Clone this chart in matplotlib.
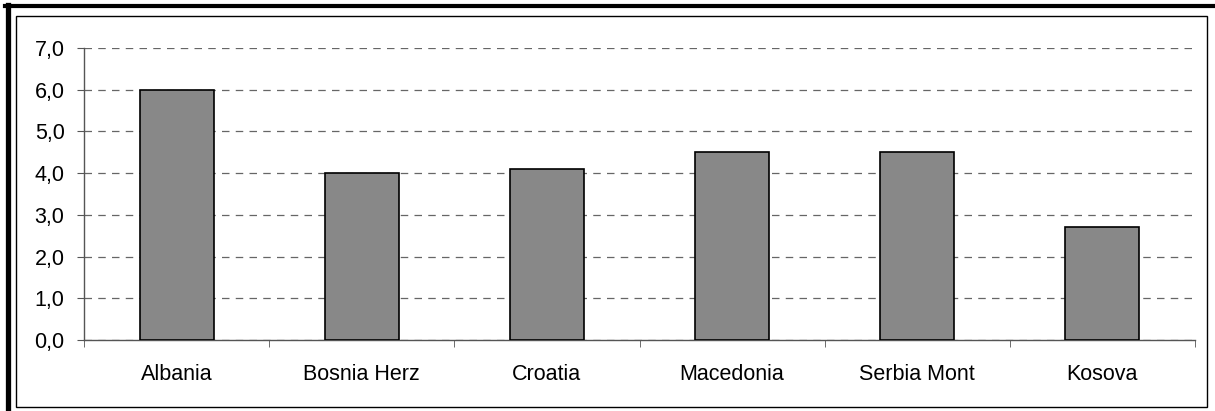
import numpy as np
import matplotlib.pyplot as plt
from matplotlib.patches import Rectangle
from matplotlib.lines import Line2D
from matplotlib.ticker import FixedLocator, NullFormatter

countries = ['Albania', 'Bosnia Herz', 'Croatia', 'Macedonia', 'Serbia Mont', 'Kosova']
values = [6.0, 4.0, 4.1, 4.5, 4.5, 2.7]
yticks = [0, 1, 2, 3, 4, 5, 6, 7]

W, H = 1215, 411
fig = plt.figure(figsize=(W / 100, H / 100), dpi=100)
plt.rcParams['font.family'] = ['Liberation Sans', 'DejaVu Sans']

ax = fig.add_axes([84 / W, (H - 340) / H, (1195 - 84) / W, 292 / H])
x = np.arange(len(countries))
ax.bar(x, values, width=0.4, color='#888888', edgecolor='black', linewidth=1.2, zorder=3)

ax.set_xlim(-0.5, len(countries) - 0.5)
ax.set_ylim(0, 7)
ax.set_yticks(yticks)
ax.set_yticklabels([f'{v:.1f}'.replace('.', ',') for v in yticks], fontsize=15.5)
ax.set_xticks(x)
ax.set_xticklabels(countries, fontsize=15.5)
ax.tick_params(axis='x', length=0, pad=17)
ax.tick_params(axis='y', length=5, color='#555555', pad=9)
ax.xaxis.set_minor_locator(FixedLocator(np.arange(-0.5, len(countries), 1.0)))
ax.xaxis.set_minor_formatter(NullFormatter())
ax.tick_params(axis='x', which='minor', length=5, direction='out', color='#555555')

ax.yaxis.grid(True, linestyle=(0, (6, 5)), color='#666666', linewidth=0.9, zorder=0)
ax.set_axisbelow(True)
for s in ['top', 'right']:
    ax.spines[s].set_visible(False)
for s in ['left', 'bottom']:
    ax.spines[s].set_color('#555555')
    ax.spines[s].set_linewidth(1)

# frames around the chart
fig.add_artist(Rectangle((16 / W, (H - 407) / H), (1207 - 16) / W, (407 - 16) / H,
                         transform=fig.transFigure, fill=False, edgecolor='black', linewidth=1))
fig.add_artist(Line2D([7.5 / W, 7.5 / W], [0, (H - 5) / H], transform=fig.transFigure,
                      color='black', linewidth=3.8))
fig.add_artist(Line2D([5 / W, 1], [(H - 6.5) / H, (H - 6.5) / H], transform=fig.transFigure,
                      color='black', linewidth=3))

fig.savefig('out.png', dpi=100)
